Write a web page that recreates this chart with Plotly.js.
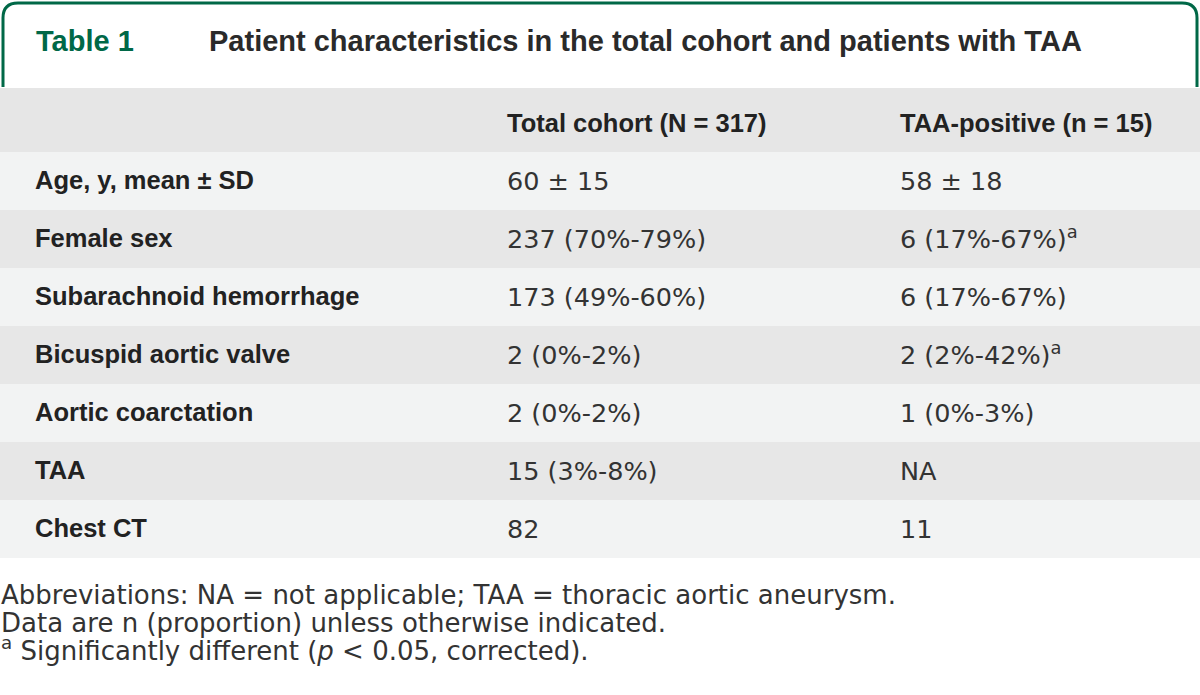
<!DOCTYPE html>
<html>
<head>
<meta charset="utf-8">
<script src="https://cdn.plot.ly/plotly-3.0.1.min.js"></script>
<style>
  html, body { margin: 0; padding: 0; background: #fff; }
  #table1 { width: 1200px; height: 695px; }
</style>
</head>
<body>
<div id="table1"></div>
<script>
// table content
var headerLabels = ["Total cohort (N = 317)", "TAA-positive (n = 15)"];
var rowLabels = [
  "Age, y, mean ± SD",
  "Female sex",
  "Subarachnoid hemorrhage",
  "Bicuspid aortic valve",
  "Aortic coarctation",
  "TAA",
  "Chest CT"
];
var totalCohort = [
  "60 ± 15",
  "237 (70%-79%)",
  "173 (49%-60%)",
  "2 (0%-2%)",
  "2 (0%-2%)",
  "15 (3%-8%)",
  "82"
];
var taaPositive = [
  "58 ± 18",
  "6 (17%-67%)<sup>a</sup>",
  "6 (17%-67%)",
  "2 (2%-42%)<sup>a</sup>",
  "1 (0%-3%)",
  "NA",
  "11"
];
var tableNumber = "Table 1";
var tableTitle = "Patient characteristics in the total cohort and patients with TAA";
var footnotes = [
  "Abbreviations: NA = not applicable; TAA = thoracic aortic aneurysm.",
  "Data are n (proportion) unless otherwise indicated.",
  "<sup>a</sup> Significantly different (<i>p</i> &lt; 0.05, corrected)."
];

var W = 1200, H = 695;
var green = "#006847";
var rowColors = rowLabels.map(function (_, i) { return i % 2 === 0 ? "#f2f3f3" : "#e7e7e7"; });
var spacer = rowLabels.map(function () { return ""; });

// pixel -> paper helpers
function px(x) { return x / W; }
function py(y) { return 1 - y / H; }

// plotly puts table text at the top of the cell; a raised trailing blank
// makes the text box taller so the words sit lower, as in the print
var rowStrut = "<sup><sup>&nbsp;</sup></sup>";
var headStrut = '<a href="#"style="font-size:40px">&nbsp;</a>';
function withStrut(list, s) { return list.map(function (t) { return t + s; }); }

var trace = {
  type: "table",
  domain: { x: [0, 1], y: [py(562), py(88)] },
  columnwidth: [27, 472, 393, 308],
  header: {
    values: ["", ""].concat(withStrut(headerLabels, headStrut)),
    height: 64,
    align: "left",
    fill: { color: "#e6e6e6" },
    line: { color: "#e6e6e6", width: 0 },
    font: { family: "Liberation Sans", size: 25.5, color: "#222", weight: "bold" }
  },
  cells: {
    values: [spacer, withStrut(rowLabels, rowStrut), withStrut(totalCohort, rowStrut), withStrut(taaPositive, rowStrut)],
    height: 58,
    align: "left",
    fill: { color: [rowColors, rowColors, rowColors, rowColors] },
    line: { color: [rowColors, rowColors, rowColors, rowColors], width: 0 },
    font: {
      family: ["Liberation Sans", "Liberation Sans", "DejaVu Sans", "DejaVu Sans"],
      size: [25.5, 25.5, 25.5, 25.5],
      color: ["#222", "#222", "#333", "#333"],
      weight: ["bold", "bold", "normal", "normal"]
    }
  }
};

var annotations = [
  {
    text: "<b>" + tableNumber + "</b>", x: px(35), y: py(41), yanchor: "middle",
    font: { family: "Liberation Sans", size: 29, color: green }
  },
  {
    text: "<b>" + tableTitle + "</b>", x: px(208), y: py(41), yanchor: "middle",
    font: { family: "Liberation Sans", size: 29, color: "#2a2a2a" }
  }
];
footnotes.forEach(function (t, i) {
  annotations.push({
    text: t, x: px(0), y: py(611 + i * 28), yanchor: "bottom",
    font: { family: "DejaVu Sans", size: 26, color: "#333" }
  });
});
annotations.forEach(function (a) {
  a.xref = "paper"; a.yref = "paper";
  a.xanchor = "left";
  a.showarrow = false; a.borderpad = 0; a.align = "left";
});

// green tab border round the title
var tabPath = "M " + px(3) + "," + py(87) +
  " L " + px(3) + "," + py(18) +
  " Q " + px(3) + "," + py(3) + " " + px(18) + "," + py(3) +
  " L " + px(1182) + "," + py(3) +
  " Q " + px(1197) + "," + py(3) + " " + px(1197) + "," + py(18) +
  " L " + px(1197) + "," + py(87);

var layout = {
  width: W,
  height: H,
  margin: { l: 0, r: 0, t: 0, b: 0 },
  paper_bgcolor: "#fff",
  plot_bgcolor: "#fff",
  annotations: annotations,
  shapes: [
    {
      type: "path", xref: "paper", yref: "paper", path: tabPath,
      line: { color: green, width: 3 }
    }
  ]
};

Plotly.newPlot("table1", [trace], layout, { displayModeBar: false, staticPlot: true });
</script>
</body>
</html>
